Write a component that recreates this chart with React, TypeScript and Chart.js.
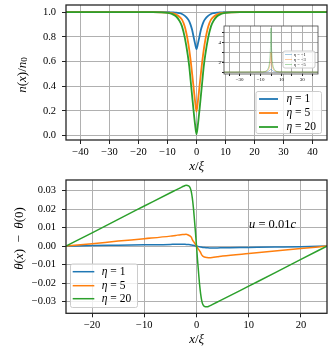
import React, { useEffect, useRef } from 'react';
import { Chart, registerables } from 'chart.js';

Chart.register(...registerables);

// ---------------- data ----------------
const etaLabels = ['1', '5', '20'];
const insetEtaLabels = ['−1', '−3', '−5'];
const colors = ['#1f77b4', '#ff7f0e', '#2ca02c'];
const insetColors = ['rgba(31,119,180,0.4)', 'rgba(255,127,14,0.4)', 'rgba(44,160,44,0.4)'];

// top panel: density n(x)/n0
const topX = [-45, -15, -12, -10, -9, -8, -7, -6, -5, -4, -3, -2.5, -2, -1.5, -1, -0.5, 0, 0.5, 1, 1.5, 2, 2.5, 3, 4, 5, 6, 7, 8, 9, 10, 12, 15, 45];
const topEta1 = [1, 1, 1, 1, 0.999, 0.998, 0.996, 0.992, 0.985, 0.97, 0.945, 0.925, 0.895, 0.855, 0.8, 0.745, 0.7, 0.745, 0.8, 0.855, 0.895, 0.925, 0.945, 0.97, 0.985, 0.992, 0.996, 0.998, 0.999, 1, 1, 1, 1];
const topEta5 = [1, 1, 0.999, 0.997, 0.995, 0.99, 0.98, 0.965, 0.94, 0.88, 0.77, 0.695, 0.605, 0.5, 0.39, 0.28, 0.195, 0.28, 0.39, 0.5, 0.605, 0.695, 0.77, 0.88, 0.94, 0.965, 0.98, 0.99, 0.995, 0.997, 0.999, 1, 1];
const topEta20 = [1, 1, 0.999, 0.995, 0.99, 0.98, 0.965, 0.935, 0.885, 0.79, 0.65, 0.56, 0.44, 0.32, 0.2, 0.09, 0.01, 0.09, 0.2, 0.32, 0.44, 0.56, 0.65, 0.79, 0.885, 0.935, 0.965, 0.98, 0.99, 0.995, 0.999, 1, 1];
const topXTicks = [-40, -30, -20, -10, 0, 10, 20, 30, 40];
const topYTicks = [0, 0.2, 0.4, 0.6, 0.8, 1.0];

// inset: bright profiles
const insetX = [-45, -8, -6, -4, -3, -2, -1.5, -1, -0.5, 0, 0.5, 1, 1.5, 2, 3, 4, 6, 8, 45];
const insetEtaM1 = [1, 1, 1.01, 1.03, 1.05, 1.1, 1.14, 1.19, 1.25, 1.3, 1.25, 1.19, 1.14, 1.1, 1.05, 1.03, 1.01, 1, 1];
const insetEtaM3 = [1, 1.01, 1.03, 1.1, 1.18, 1.35, 1.5, 1.75, 2.2, 3.0, 2.2, 1.75, 1.5, 1.35, 1.18, 1.1, 1.03, 1.01, 1];
const insetEtaM5 = [1, 1.02, 1.05, 1.15, 1.3, 1.6, 1.9, 2.5, 3.5, 5.5, 3.5, 2.5, 1.9, 1.6, 1.3, 1.15, 1.05, 1.02, 1];
const insetXTicks = [-40, -30, -20, -10, 0, 10, 20, 30, 40];
const insetXLabeled = [-30, -10, 10, 30];
const insetYTicks = [1, 2, 3, 4, 5];
const insetYLabeled = [2, 4];

// bottom panel: phase theta(x) - theta(0)
const botX = [-25, -20, -15, -10, -5, -4, -3, -2.5, -2, -1.5, -1.2, -1, -0.8, -0.6, -0.4, -0.2, 0, 0.2, 0.4, 0.6, 0.8, 1, 1.2, 1.5, 2, 2.5, 3, 4, 5, 10, 15, 20, 25];
const botEta1 = [0, 0.0003, 0.0005, 0.0007, 0.0009, 0.001, 0.001, 0.001, 0.0009, 0.0008, 0.0007, 0.0006, 0.0005, 0.0004, 0.0003, 0.0001, 0, -0.0001, -0.0003, -0.0004, -0.0005, -0.0006, -0.0007, -0.0008, -0.0009, -0.001, -0.001, -0.001, -0.0009, -0.0007, -0.0005, -0.0003, 0];
const botEta5 = [0, 0.0013, 0.0027, 0.004, 0.0054, 0.0058, 0.0062, 0.0063, 0.0064, 0.0059, 0.0054, 0.0048, 0.0035, 0.0026, 0.0018, 0.0009, 0, -0.0009, -0.0018, -0.0026, -0.0035, -0.0048, -0.0054, -0.0059, -0.0062, -0.0063, -0.0062, -0.0058, -0.0054, -0.004, -0.0027, -0.0013, 0];
const botEta20 = [0, 0.0072, 0.0145, 0.0217, 0.0289, 0.0303, 0.0317, 0.0324, 0.0329, 0.0326, 0.0315, 0.0295, 0.026, 0.021, 0.0145, 0.0075, 0, -0.0075, -0.0145, -0.021, -0.026, -0.0295, -0.0315, -0.0326, -0.0329, -0.0324, -0.0317, -0.0303, -0.0289, -0.0217, -0.0145, -0.0072, 0];
const botXTicks = [-20, -10, 0, 10, 20];
const botYTicks = [-0.03, -0.02, -0.01, 0, 0.01, 0.02, 0.03];

// ---------------- helpers ----------------
const SERIF = '"Liberation Serif", "Times New Roman", serif';

type Seg = { t: string; it?: boolean; s?: number; dy?: number };

const segFont = (size: number, sg: Seg) => `${sg.it ? 'italic ' : ''}${size * (sg.s ?? 1)}px ${SERIF}`;

function drawRich(ctx: CanvasRenderingContext2D, segs: Seg[], x: number, y: number, size: number, align: 'left' | 'center', rot = 0) {
  ctx.save();
  ctx.translate(x, y);
  if (rot) ctx.rotate(rot);
  ctx.textBaseline = 'middle';
  ctx.textAlign = 'left';
  ctx.fillStyle = '#000';
  let w = 0;
  for (const sg of segs) {
    ctx.font = segFont(size, sg);
    w += ctx.measureText(sg.t).width;
  }
  let cx = align === 'center' ? -w / 2 : 0;
  for (const sg of segs) {
    ctx.font = segFont(size, sg);
    ctx.fillText(sg.t, cx, (sg.dy ?? 0) * size);
    cx += ctx.measureText(sg.t).width;
  }
  ctx.restore();
}

const fmt = (v: number, d: number) => (v < 0 ? '−' + Math.abs(v).toFixed(d) : v.toFixed(d));

function roundRect(ctx: CanvasRenderingContext2D, x: number, y: number, w: number, h: number, r: number) {
  ctx.beginPath();
  ctx.moveTo(x + r, y);
  ctx.lineTo(x + w - r, y);
  ctx.quadraticCurveTo(x + w, y, x + w, y + r);
  ctx.lineTo(x + w, y + h - r);
  ctx.quadraticCurveTo(x + w, y + h, x + w - r, y + h);
  ctx.lineTo(x + r, y + h);
  ctx.quadraticCurveTo(x, y + h, x, y + h - r);
  ctx.lineTo(x, y + r);
  ctx.quadraticCurveTo(x, y, x + r, y);
  ctx.closePath();
}

type LegendCfg = {
  box: [number, number, number, number];
  sample: [number, number];
  textX: number;
  rows: number[];
  labels: string[];
  colors: string[];
  size: number;
  lw: number;
};

function drawLegend(ctx: CanvasRenderingContext2D, L: LegendCfg) {
  ctx.save();
  const [x, y, w, h] = L.box;
  roundRect(ctx, x, y, w, h, 2);
  ctx.fillStyle = 'rgba(255,255,255,0.8)';
  ctx.fill();
  ctx.strokeStyle = '#cccccc';
  ctx.lineWidth = 1;
  ctx.stroke();
  L.rows.forEach((ry, i) => {
    ctx.strokeStyle = L.colors[i];
    ctx.lineWidth = L.lw;
    ctx.beginPath();
    ctx.moveTo(L.sample[0], ry);
    ctx.lineTo(L.sample[1], ry);
    ctx.stroke();
    drawRich(ctx, [{ t: 'η', it: true }, { t: ' = ' + L.labels[i] }], L.textX, ry, L.size, 'left');
  });
  ctx.restore();
}

function scaleCfg(axis: 'x' | 'y', min: number, max: number, ticks: number[], label: (v: number) => string, fit: number, fontSize: number, pad: number, tickLen: number) {
  return {
    type: 'linear' as const,
    min,
    max,
    afterBuildTicks: (s: any) => {
      s.ticks = ticks.map((v) => ({ value: v }));
    },
    afterFit: (s: any) => {
      if (axis === 'x') s.height = fit;
      else s.width = fit;
      s.paddingTop = 0;
      s.paddingBottom = 0;
      s.paddingLeft = 0;
      s.paddingRight = 0;
    },
    ticks: {
      callback: (v: any) => label(Number(v)),
      font: { family: SERIF, size: fontSize },
      color: '#000',
      padding: pad,
      maxRotation: 0,
      minRotation: 0,
      autoSkip: false,
    },
    grid: {
      color: '#b0b0b0',
      lineWidth: 1,
      tickLength: tickLen,
      tickColor: '#222',
      tickWidth: 1,
      drawOnChartArea: true,
    },
    border: { display: false },
  };
}

function frame(ctx: CanvasRenderingContext2D, a: any, color = '#262626', lw = 1.3) {
  ctx.save();
  ctx.strokeStyle = color;
  ctx.lineWidth = lw;
  ctx.strokeRect(a.left, a.top, a.right - a.left, a.bottom - a.top);
  ctx.restore();
}

const ds = (xs: number[], ys: number[], color: string, lw: number, order: number, label: string) => ({
  label,
  data: xs.map((x, i) => ({ x, y: ys[i] })),
  borderColor: color,
  backgroundColor: color,
  borderWidth: lw,
  pointRadius: 0,
  fill: false,
  cubicInterpolationMode: 'monotone' as const,
  order,
});

export default function App() {
  const topRef = useRef<HTMLCanvasElement>(null);
  const botRef = useRef<HTMLCanvasElement>(null);
  const insRef = useRef<HTMLCanvasElement>(null);

  useEffect(() => {
    const charts: Chart[] = [];

    // ---------- top chart ----------
    charts.push(
      new Chart(topRef.current!, {
        type: 'line',
        data: {
          datasets: [
            ds(topX, topEta1, colors[0], 1.8, 2, 'η = 1'),
            ds(topX, topEta5, colors[1], 1.8, 1, 'η = 5'),
            ds(topX, topEta20, colors[2], 1.8, 0, 'η = 20'),
          ],
        },
        options: {
          animation: false,
          responsive: false,
          devicePixelRatio: 1,
          layout: { padding: { left: 0, right: 6, top: 5, bottom: 0 } },
          plugins: { legend: { display: false }, tooltip: { enabled: false } },
          scales: {
            x: scaleCfg('x', -45, 45, topXTicks, (v) => fmt(v, 0), 35, 10.5, 2, 4) as any,
            y: scaleCfg('y', -0.036, 1.058, topYTicks, (v) => fmt(v, 1), 66, 10.5, 6, 4) as any,
          },
        },
        plugins: [
          {
            id: 'topDeco',
            afterDraw: (c: any) => {
              const ctx = c.ctx as CanvasRenderingContext2D;
              frame(ctx, c.chartArea);
              drawLegend(ctx, {
                box: [256, 91.5, 65.5, 42],
                sample: [259, 278],
                textX: 286.5,
                rows: [99, 113, 127],
                labels: etaLabels,
                colors,
                size: 11.5,
                lw: 1.8,
              });
              drawRich(ctx, [{ t: 'x', it: true }, { t: '/' }, { t: 'ξ', it: true }], 196.7, 166.5, 13, 'center');
              drawRich(
                ctx,
                [{ t: 'n', it: true }, { t: '(' }, { t: 'x', it: true }, { t: ')/' }, { t: 'n', it: true }, { t: '0', s: 0.7, dy: 0.2 }],
                22.5,
                75,
                13,
                'center',
                -Math.PI / 2
              );
            },
          },
        ],
      } as any)
    );

    // ---------- inset ----------
    charts.push(
      new Chart(insRef.current!, {
        type: 'line',
        data: {
          datasets: [
            ds(insetX, insetEtaM1, insetColors[0], 1, 2, 'η = −1'),
            ds(insetX, insetEtaM3, insetColors[1], 1, 1, 'η = −3'),
            ds(insetX, insetEtaM5, insetColors[2], 1, 0, 'η = −5'),
          ],
        },
        options: {
          animation: false,
          responsive: false,
          devicePixelRatio: 1,
          layout: { padding: { left: 0, right: 6, top: 6, bottom: 0 } },
          plugins: { legend: { display: false }, tooltip: { enabled: false } },
          scales: {
            x: scaleCfg('x', -45, 45, insetXTicks, (v) => (insetXLabeled.includes(v) ? fmt(v, 0) : ''), 14, 5, 1, 2) as any,
            y: scaleCfg('y', 0.8, 5.7, insetYTicks, (v) => (insetYLabeled.includes(v) ? String(v) : ''), 18, 5, 1, 2) as any,
          },
        },
        plugins: [
          {
            id: 'insetDeco',
            beforeDraw: (c: any) => {
              const a = c.chartArea;
              const ctx = c.ctx as CanvasRenderingContext2D;
              ctx.save();
              ctx.fillStyle = '#ffffff';
              ctx.fillRect(a.left, a.top, a.right - a.left, a.bottom - a.top);
              ctx.restore();
            },
            afterDraw: (c: any) => {
              const ctx = c.ctx as CanvasRenderingContext2D;
              frame(ctx, c.chartArea, '#444', 0.8);
              drawLegend(ctx, {
                box: [77, 31, 32, 17],
                sample: [79, 86],
                textX: 88,
                rows: [34.5, 39.5, 44.5],
                labels: insetEtaLabels,
                colors: insetColors,
                size: 4.5,
                lw: 1,
              });
            },
          },
        ],
      } as any)
    );

    // ---------- bottom chart ----------
    charts.push(
      new Chart(botRef.current!, {
        type: 'line',
        data: {
          datasets: [
            ds(botX, botEta1, colors[0], 1.5, 2, 'η = 1'),
            ds(botX, botEta5, colors[1], 1.5, 1, 'η = 5'),
            ds(botX, botEta20, colors[2], 1.5, 0, 'η = 20'),
          ],
        },
        options: {
          animation: false,
          responsive: false,
          devicePixelRatio: 1,
          layout: { padding: { left: 0, right: 6, top: 5, bottom: 0 } },
          plugins: { legend: { display: false }, tooltip: { enabled: false } },
          scales: {
            x: scaleCfg('x', -25, 25, botXTicks, (v) => fmt(v, 0), 37.7, 10.5, 2, 4) as any,
            y: scaleCfg('y', -0.0364, 0.0358, botYTicks, (v) => fmt(v, 2), 66, 10.5, 6, 4) as any,
          },
        },
        plugins: [
          {
            id: 'botDeco',
            afterDraw: (c: any) => {
              const ctx = c.ctx as CanvasRenderingContext2D;
              frame(ctx, c.chartArea);
              drawLegend(ctx, {
                box: [70.5, 89, 67, 43.5],
                sample: [72.7, 94.3],
                textX: 101.7,
                rows: [96.7, 110.7, 123.7],
                labels: etaLabels,
                colors,
                size: 11.5,
                lw: 1.5,
              });
              drawRich(ctx, [{ t: 'u', it: true }, { t: ' = 0.01' }, { t: 'c', it: true }], 272.5, 50, 12.5, 'center');
              drawRich(ctx, [{ t: 'x', it: true }, { t: '/' }, { t: 'ξ', it: true }], 196.7, 165, 13, 'center');
              drawRich(
                ctx,
                [{ t: 'θ', it: true }, { t: '(' }, { t: 'x', it: true }, { t: ')  −  ' }, { t: 'θ', it: true }, { t: '(0)' }],
                20,
                63.5,
                13,
                'center',
                -Math.PI / 2
              );
            },
          },
        ],
      } as any)
    );

    return () => charts.forEach((c) => c.destroy());
  }, []);

  return (
    <div style={{ position: 'absolute', left: 0, top: 0, width: 333, height: 351, background: '#fff' }}>
      <canvas ref={topRef} width={333} height={175} style={{ position: 'absolute', left: 0, top: 0, width: 333, height: 175 }} />
      <canvas ref={insRef} width={118} height={68} style={{ position: 'absolute', left: 206, top: 20, width: 118, height: 68 }} />
      <canvas ref={botRef} width={333} height={176} style={{ position: 'absolute', left: 0, top: 175, width: 333, height: 176 }} />
    </div>
  );
}
